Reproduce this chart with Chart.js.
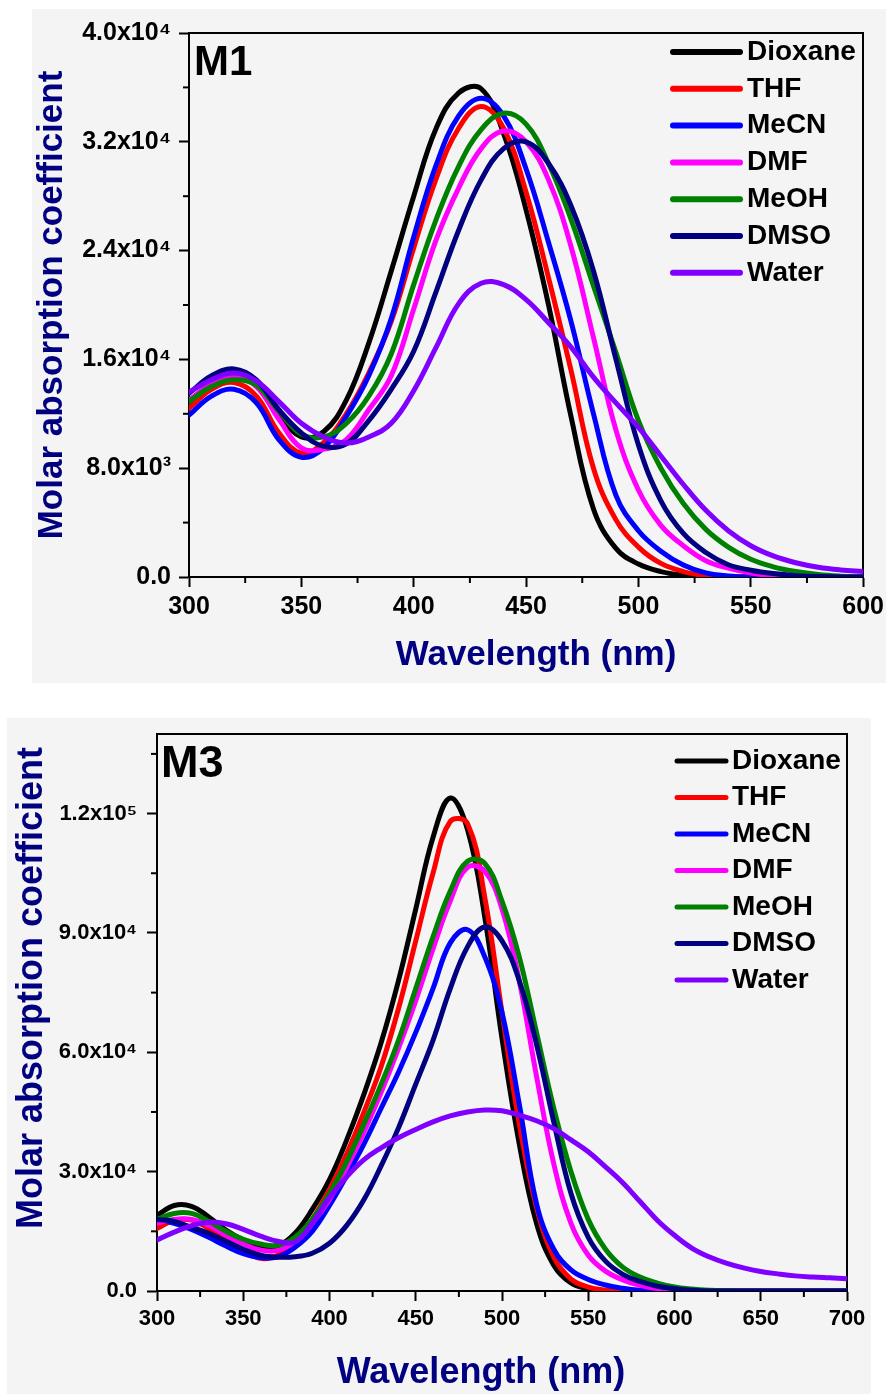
<!DOCTYPE html>
<html>
<head>
<meta charset="utf-8">
<title>Molar absorption spectra M1 / M3</title>
<script src="https://cdn.jsdelivr.net/npm/chart.js@4.4.1/dist/chart.umd.min.js"></script>
<style>
  html, body { margin: 0; padding: 0; background: #fff; }
  #page { position: relative; width: 889px; height: 1394px; overflow: hidden; }
  .panel { position: absolute; background: #f4f4f4; }
  canvas { position: absolute; left: 0; }
</style>
</head>
<body>
<div id="page">
  <div class="panel" style="left:32px;top:9px;width:854px;height:674px"></div>
  <div class="panel" style="left:7px;top:718px;width:864px;height:676px"></div>
  <canvas id="chartM1" width="889" height="690" style="top:0"></canvas>
  <canvas id="chartM3" width="889" height="694" style="top:700px"></canvas>
</div>
<script>
// 溶媒と色
const solvents = ['Dioxane', 'THF', 'MeCN', 'DMF', 'MeOH', 'DMSO', 'Water'];
const solventColors = ['#000000', '#ff0000', '#0000ff', '#ff00ff', '#008000', '#000080', '#7f00ff'];

// ---- M1 ----
const wavelengthM1 = [300, 310, 320, 330, 340, 350, 360, 370, 380, 390, 400, 410, 420, 430, 440, 450,
  460, 470, 480, 490, 500, 510, 520, 530, 540, 550, 560, 570, 580, 590, 600];
const m1Dioxane = [12700, 14200, 15000, 14200, 12000, 10300, 10700, 13000, 17200, 22500, 28000, 33000, 35600, 35900, 32600, 27000,
  20000, 11800, 5000, 2100, 950, 400, 150, 50, 0, 0, 0, 0, 0, 0, 0];
const m1THF = [12400, 13800, 14300, 13300, 10600, 9100, 9900, 12000, 15000, 18800, 24200, 29300, 33000, 34600, 33000, 28300,
  22000, 15200, 8000, 4200, 2200, 1000, 400, 100, 0, 0, 0, 0, 0, 0, 0];
const m1MeCN = [11900, 13300, 13800, 12800, 10100, 8800, 9500, 11800, 14800, 19000, 25000, 30300, 33900, 35200, 33900, 30000,
  24600, 18800, 12000, 6000, 3400, 1900, 880, 300, 80, 0, 0, 0, 0, 0, 0];
const m1DMF = [13000, 14200, 14700, 14000, 11600, 9500, 9400, 10100, 12300, 14800, 19700, 24800, 28600, 31500, 32800, 32000,
  29200, 24300, 17600, 10800, 6400, 3800, 2300, 1200, 650, 300, 80, 0, 0, 0, 0];
const m1MeOH = [12900, 14000, 14500, 14100, 12200, 10500, 10300, 11300, 13300, 16400, 21500, 26300, 30200, 32900, 34100, 33300,
  30400, 26300, 21400, 16500, 11500, 8000, 5400, 3500, 2200, 1300, 750, 400, 180, 60, 0];
const m1DMSO = [13500, 14800, 15300, 14500, 12300, 10600, 9600, 9800, 11500, 13800, 16600, 21000, 25500, 29200, 31500, 32000,
  30400, 27300, 22500, 16000, 9700, 5600, 3200, 1800, 900, 500, 250, 100, 30, 0, 0];
const m1Water = [13600, 14500, 15000, 14400, 12900, 11300, 10300, 9850, 10300, 11300, 13700, 16900, 20100, 21600, 21500, 20400,
  18700, 16900, 14700, 12800, 11000, 8900, 6800, 4900, 3400, 2300, 1550, 1050, 720, 520, 400];
const yTicksM1 = [0, 8000, 16000, 24000, 32000, 40000];
const yLabelsM1 = ['0.0', '8.0x10³', '1.6x10⁴', '2.4x10⁴', '3.2x10⁴', '4.0x10⁴'];
const yMinorM1 = [4000, 12000, 20000, 28000, 36000];
const xMinorM1 = [325, 375, 425, 475, 525, 575];

// ---- M3 ----
const wavelengthM3 = [300, 310, 320, 330, 340, 350, 360, 370, 380, 390, 400, 410, 420, 430, 440, 450,
  460, 470, 480, 490, 500, 510, 520, 530, 540, 550, 560, 570, 580, 590, 600,
  610, 620, 630, 640, 650, 660, 670, 680, 690, 700];
const m3Dioxane = [19000, 21500, 21300, 18600, 15300, 12800, 11200, 11300, 14500, 20500, 28000, 38000, 49500, 62500, 78000, 96000,
  114000, 123900, 116000, 94000, 63500, 37000, 17000, 6500, 2000, 500, 100, 0, 0, 0, 0,
  0, 0, 0, 0, 0, 0, 0, 0, 0, 0];
const m3THF = [15700, 17800, 17800, 15700, 12800, 10200, 8200, 9000, 12500, 18000, 25500, 34500, 45000, 56500, 71000, 88000,
  105000, 118000, 117500, 99000, 70000, 42000, 21000, 8500, 3000, 1000, 250, 0, 0, 0, 0,
  0, 0, 0, 0, 0, 0, 0, 0, 0, 0];
const m3MeCN = [18000, 17000, 15500, 13500, 11300, 9400, 8400, 8600, 11000, 15000, 21500, 29000, 37000, 46000, 55000, 65000,
  76000, 87500, 90800, 84000, 70000, 47000, 22000, 10500, 5300, 2900, 1500, 700, 200, 0, 0,
  0, 0, 0, 0, 0, 0, 0, 0, 0, 0];
const m3DMF = [17000, 18000, 18000, 16500, 14000, 11800, 10300, 10200, 12500, 17000, 23000, 31000, 40000, 50000, 61000, 73000,
  86000, 98000, 106500, 105500, 96000, 78000, 54000, 32000, 17000, 9000, 5000, 2800, 1400, 600, 200,
  0, 0, 0, 0, 0, 0, 0, 0, 0, 0];
const m3MeOH = [18000, 19500, 19500, 17500, 15000, 13000, 11800, 11500, 13500, 18000, 24500, 32500, 42000, 52000, 63000, 76000,
  89000, 100500, 108000, 107500, 98000, 84000, 65000, 46000, 30000, 18000, 10500, 6000, 3500, 2000, 1000,
  500, 200, 50, 0, 0, 0, 0, 0, 0, 0];
const m3DMSO = [18000, 17500, 16000, 14500, 12500, 10500, 9000, 8500, 8600, 9500, 12000, 16500, 23000, 31500, 41000, 52000,
  63000, 76000, 86500, 91500, 88000, 78000, 62000, 42500, 24500, 13500, 7500, 4200, 2400, 1200, 600,
  200, 0, 0, 0, 0, 0, 0, 0, 0, 0];
const m3Water = [12800, 14800, 16400, 17300, 16900, 15500, 13800, 12500, 12300, 17000, 23500, 28700, 33000, 36000, 38500, 40600,
  42500, 44000, 45000, 45500, 45300, 44200, 42800, 40800, 38000, 35000, 31200, 27200, 22500, 17800, 14000,
  10800, 8600, 7000, 5800, 4900, 4300, 3800, 3500, 3300, 3100];
const yTicksM3 = [0, 30000, 60000, 90000, 120000];
const yLabelsM3 = ['0.0', '3.0x10⁴', '6.0x10⁴', '9.0x10⁴', '1.2x10⁵'];
const yMinorM3 = [15000, 45000, 75000, 105000, 135000];
const xMinorM3 = [325, 375, 425, 475, 525, 575, 625, 675];

const xTitleText = 'Wavelength (nm)';
const yTitleText = 'Molar absorption coefficient';

const FONT = '"Liberation Sans", Arial, Helvetica, sans-serif';
const TITLE_COLOR = '#000080';

Chart.defaults.font.family = FONT;
Chart.defaults.color = '#000';

// 小目盛り・軸タイトル・パネル名・凡例を描くプラグイン
const decorPlugin = {
  id: 'decor',
  afterDraw(chart, args, opts) {
    const ctx = chart.ctx;
    const xs = chart.scales.x;
    const ys = chart.scales.y;
    ctx.save();
    ctx.strokeStyle = '#000';
    ctx.lineWidth = 2;
    ctx.lineCap = 'butt';
    (opts.xMinor || []).forEach(v => {
      const p = xs.getPixelForValue(v);
      ctx.beginPath();
      ctx.moveTo(p, xs.top);
      ctx.lineTo(p, xs.top + opts.minorLen);
      ctx.stroke();
    });
    (opts.yMinor || []).forEach(v => {
      const p = ys.getPixelForValue(v);
      ctx.beginPath();
      ctx.moveTo(ys.right, p);
      ctx.lineTo(ys.right - opts.minorLen, p);
      ctx.stroke();
    });

    // 軸タイトル
    const t = opts.titles;
    ctx.fillStyle = TITLE_COLOR;
    ctx.textAlign = 'center';
    ctx.textBaseline = 'middle';
    ctx.font = `bold ${t.size}px ${FONT}`;
    ctx.fillText(xTitleText, t.xCx, t.xCy);
    ctx.save();
    ctx.translate(t.yCx, t.yCy);
    ctx.rotate(-Math.PI / 2);
    ctx.fillText(yTitleText, 0, 0);
    ctx.restore();

    // パネル名
    ctx.fillStyle = '#000';
    ctx.textAlign = 'left';
    ctx.textBaseline = 'alphabetic';
    ctx.font = `bold ${opts.tagSize}px ${FONT}`;
    ctx.fillText(opts.tag, opts.tagX, opts.tagY);

    // 凡例
    const lg = opts.legend;
    ctx.font = `bold ${lg.size}px ${FONT}`;
    ctx.textBaseline = 'middle';
    chart.data.datasets.forEach((ds, i) => {
      const y = lg.y + i * lg.rowH;
      ctx.strokeStyle = ds.borderColor;
      ctx.lineWidth = lg.lineW;
      ctx.lineCap = 'round';
      ctx.beginPath();
      ctx.moveTo(lg.x, y);
      ctx.lineTo(lg.x + lg.lineLen, y);
      ctx.stroke();
      ctx.fillText(ds.label, lg.x + lg.lineLen + lg.gap, y);
    });
    ctx.restore();
  }
};

function toPoints(xs, ys) {
  return xs.map((x, i) => ({ x: x, y: ys[i] }));
}

function buildDatasets(xs, seriesList, lineW) {
  return seriesList.map((ys, i) => ({
    label: solvents[i],
    data: toPoints(xs, ys),
    borderColor: solventColors[i],
    backgroundColor: solventColors[i],
    borderWidth: lineW,
    borderJoinStyle: 'round',
    borderCapStyle: 'round',
    pointRadius: 0,
    tension: 0.4,
    fill: false,
    order: seriesList.length - i   // 後の系列を上に描く
  }));
}

function makeChart(canvasId, p) {
  const boxAxis = (pos, min, max, fit) => ({
    type: 'linear',
    position: pos,
    min: min,
    max: max,
    ticks: { display: false },
    grid: { display: true, drawOnChartArea: false, drawTicks: false },
    border: { display: true, width: 2, color: '#000' },
    afterFit: fit
  });

  return new Chart(document.getElementById(canvasId), {
    type: 'line',
    data: { datasets: buildDatasets(p.xs, p.series, p.lineW) },
    plugins: [decorPlugin],
    options: {
      responsive: false,
      animation: false,
      events: [],
      layout: { padding: { top: p.padTop, right: p.padRight, left: 0, bottom: 0 } },
      plugins: {
        legend: { display: false },
        tooltip: { enabled: false },
        decor: p.decor
      },
      scales: {
        x: {
          type: 'linear',
          position: 'bottom',
          min: p.xMin,
          max: p.xMax,
          ticks: {
            stepSize: 50,
            autoSkip: false,
            maxRotation: 0,
            padding: 5,
            color: '#000',
            font: { size: p.tickSize, weight: 'bold' },
            callback: v => String(v)
          },
          grid: { drawOnChartArea: false, tickLength: 10, tickWidth: 2, tickColor: '#000' },
          border: { display: true, width: 2, color: '#000' },
          title: { display: false },
          afterFit: s => { s.height = p.xAxisH; }
        },
        y: {
          type: 'linear',
          position: 'left',
          min: 0,
          max: p.yMax,
          afterBuildTicks: s => { s.ticks = p.yTicks.map(v => ({ value: v })); },
          ticks: {
            padding: p.yTickPad,
            color: '#000',
            font: { size: p.tickSize, weight: 'bold' },
            callback: v => {
              const k = p.yTicks.indexOf(v);
              return k >= 0 ? p.yLabels[k] : '';
            }
          },
          grid: { drawOnChartArea: false, tickLength: 10, tickWidth: 2, tickColor: '#000' },
          border: { display: true, width: 2, color: '#000' },
          title: { display: false },
          afterFit: s => { s.width = p.yAxisW; }
        },
        xTop: boxAxis('top', p.xMin, p.xMax, s => { s.height = 0; }),
        yRight: boxAxis('right', 0, p.yMax, s => { s.width = 0; })
      }
    }
  });
}

// M1 グラフ
makeChart('chartM1', {
  xs: wavelengthM1,
  series: [m1Dioxane, m1THF, m1MeCN, m1DMF, m1MeOH, m1DMSO, m1Water],
  lineW: 5,
  xMin: 300, xMax: 600,
  yMax: 40000, yTicks: yTicksM1, yLabels: yLabelsM1,
  padTop: 33, padRight: 25,
  yAxisW: 189, xAxisH: 113,
  tickSize: 25, yTickPad: 8,
  decor: {
    xMinor: xMinorM1, yMinor: yMinorM1, minorLen: 6,
    titles: { size: 35, xCx: 536, xCy: 655, yCx: 52, yCy: 305 },
    tag: 'M1', tagSize: 42, tagX: 194, tagY: 75,
    legend: { x: 673, y: 52, rowH: 36.8, lineLen: 67, gap: 7, size: 28, lineW: 6 }
  }
});

// M3 グラフ
makeChart('chartM3', {
  xs: wavelengthM3,
  series: [m3Dioxane, m3THF, m3MeCN, m3DMF, m3MeOH, m3DMSO, m3Water],
  lineW: 5,
  xMin: 300, xMax: 700,
  yMax: 140000, yTicks: yTicksM3, yLabels: yLabelsM3,
  padTop: 34, padRight: 42,
  yAxisW: 157, xAxisH: 103,
  tickSize: 22, yTickPad: 10,
  decor: {
    xMinor: xMinorM3, yMinor: yMinorM3, minorLen: 6,
    titles: { size: 36, xCx: 481, xCy: 673, yCx: 32, yCy: 288 },
    tag: 'M3', tagSize: 45, tagX: 161, tagY: 77,
    legend: { x: 677, y: 61, rowH: 36.5, lineLen: 49, gap: 6, size: 28, lineW: 5 }
  }
});
</script>
</body>
</html>
